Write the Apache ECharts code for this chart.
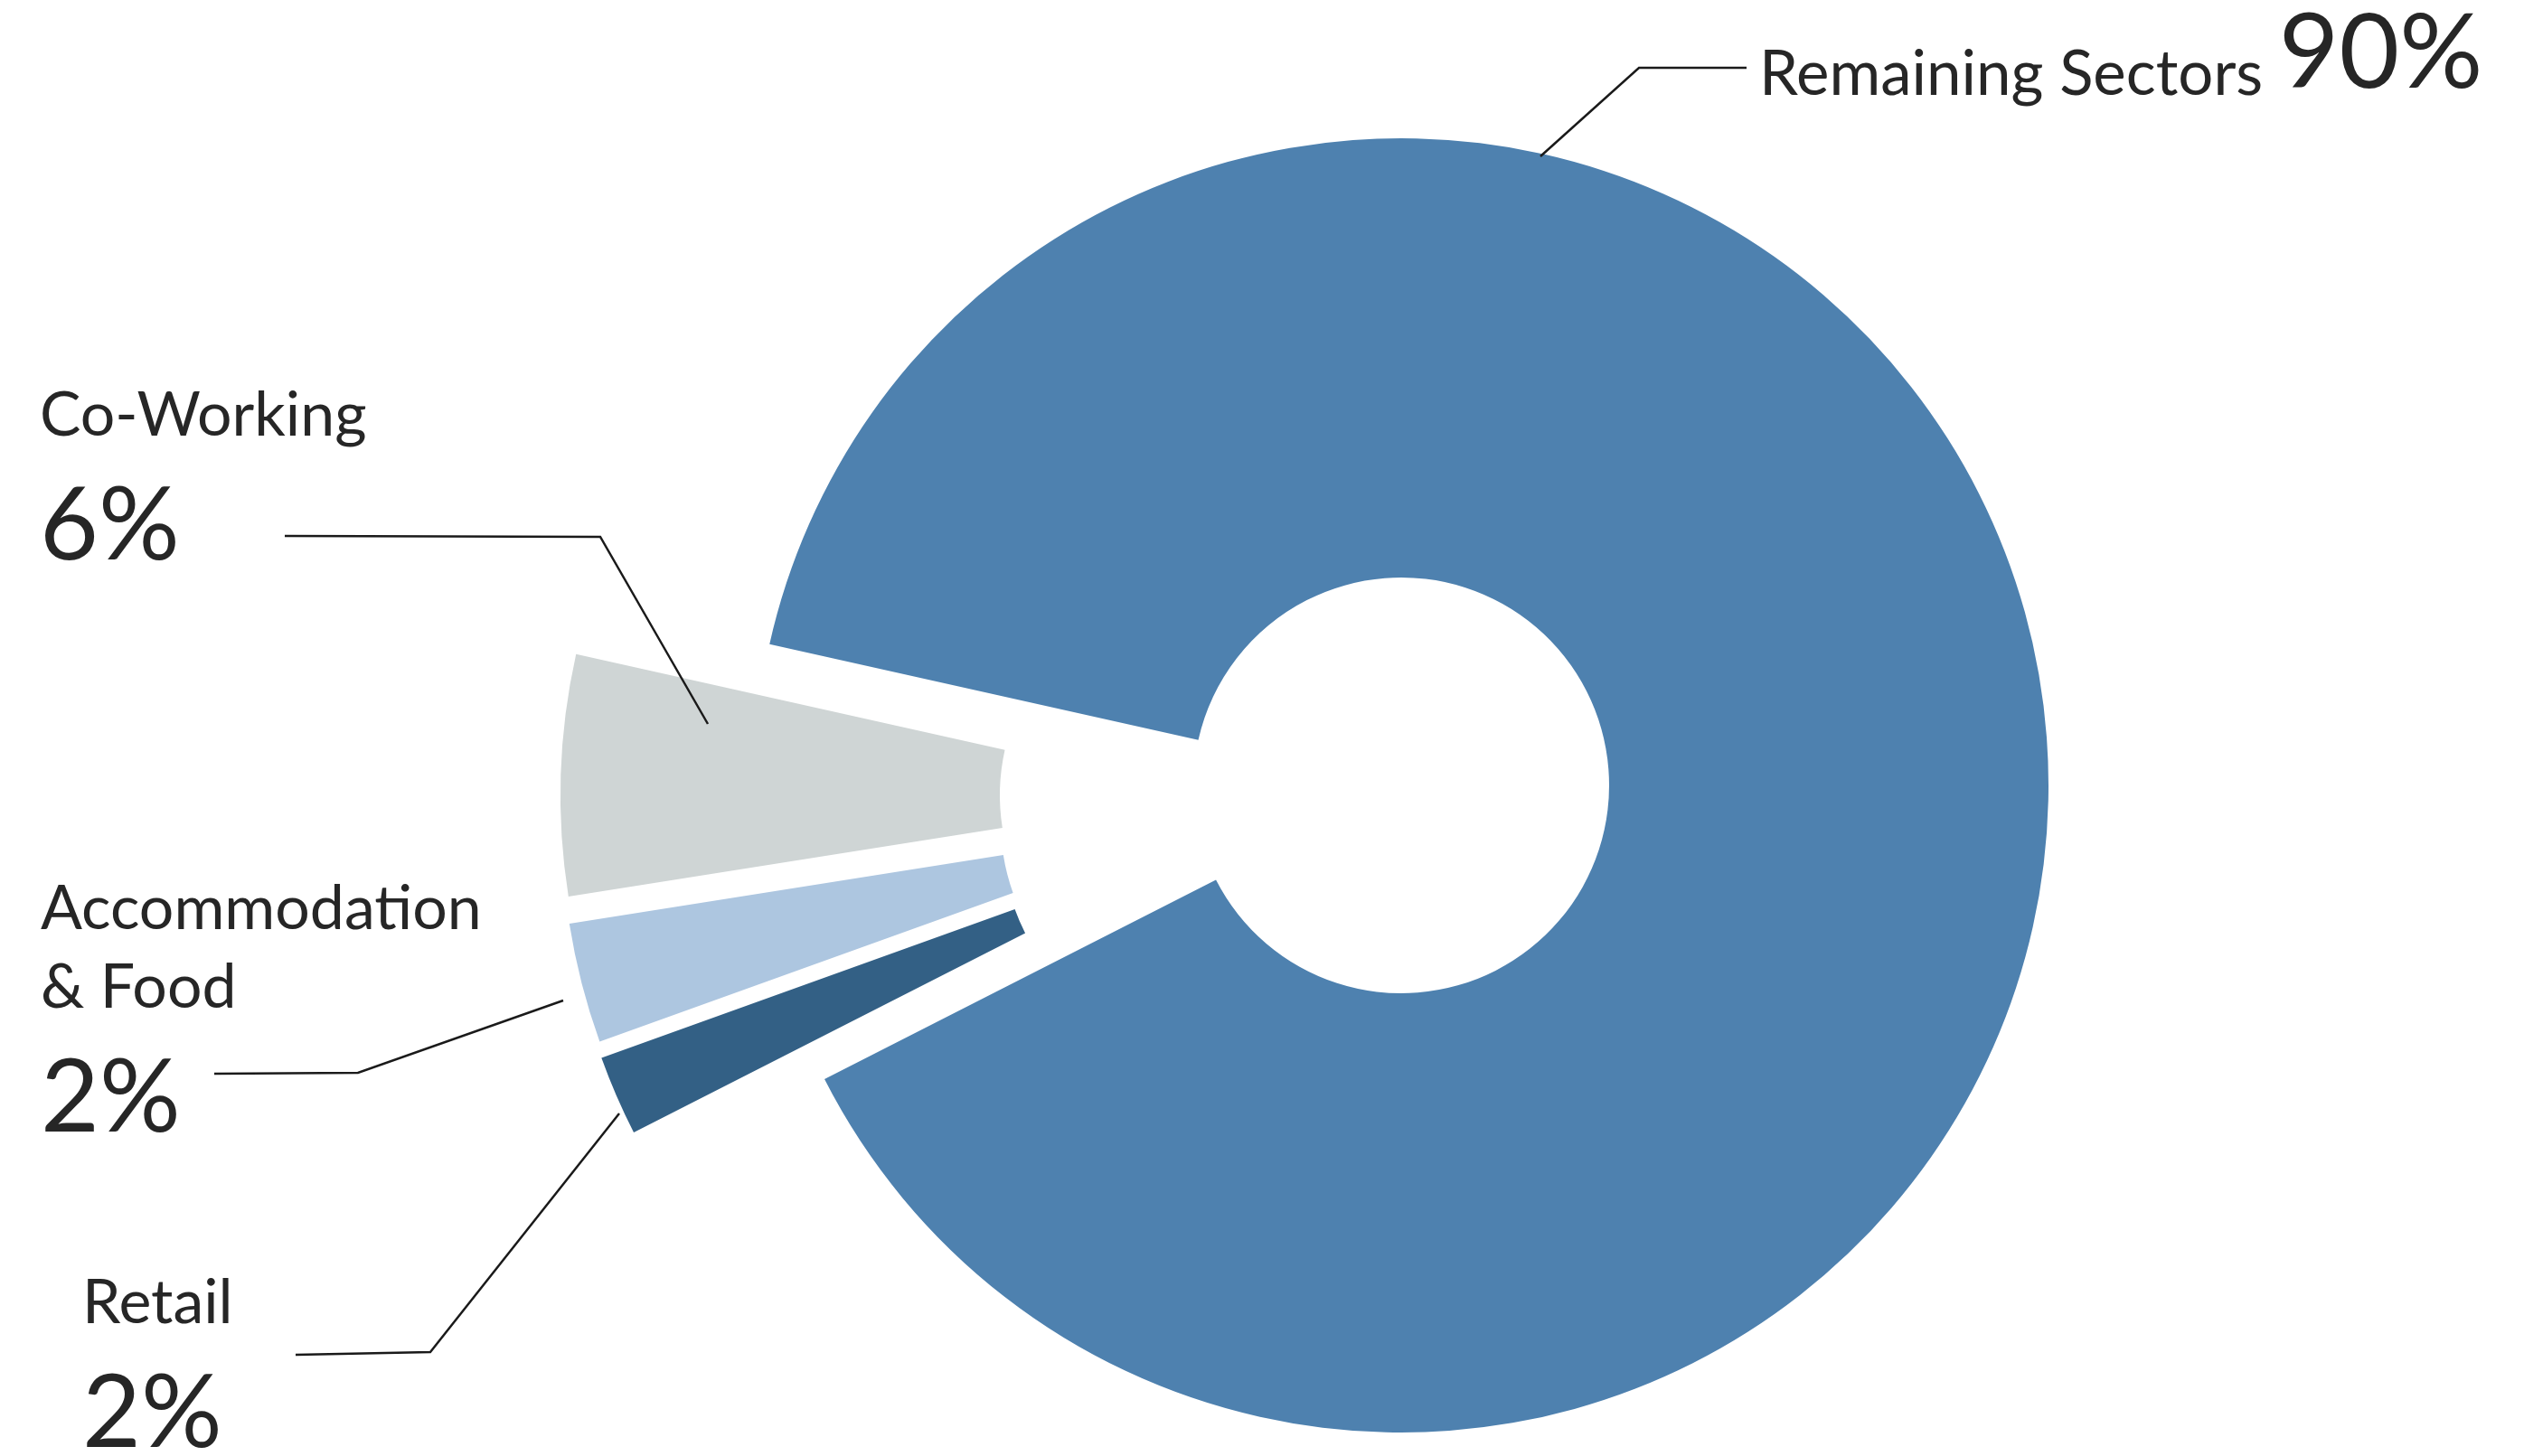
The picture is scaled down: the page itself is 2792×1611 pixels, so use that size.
<!DOCTYPE html>
<html>
<head>
<meta charset="UTF-8">
<script src="https://cdn.jsdelivr.net/npm/echarts@6/dist/echarts.min.js"></script>
<style>
html, body { margin: 0; padding: 0; background: #fff; }
#chart { width: 2792px; height: 1611px; }
</style>
</head>
<body>
<div id="chart"></div>
<script>
// slices, clockwise from the top edge of the big slice
var sectors = ['Remaining Sectors', 'Retail', 'Accommodation & Food', 'Co-Working'];
var shares = [89, 2, 3, 6];
var shareLabels = ['90%', '2%', '2%', '6%'];

var colors = ['#4e81af', '#336085', '#adc6e0', '#cfd5d5'];
var textColor = '#262626';
var font = 'Lato';

// pie geometry
var cx = 1550, cy = 869;
var radius = [230, 716];
var startAngle = 167.4;
// pulled-out slices: shift of each slice's centre
var shift = [[0, 0], [-211, 59], [-213, 41], [-214, 11]];
// label boxes + leader lines
var labelPos = [
    { x: 1946, y: -3, line: [[1704, 173], [1813, 75], [1932, 75]] },
    { x: 91, y: 1399, line: [[685, 1232], [476, 1496], [327, 1499]] },
    { x: 45, y: 963, line: [[623, 1107], [396, 1187], [237, 1188]] },
    { x: 44, y: 417, line: [[783, 801], [664, 594], [315, 593]] }
];

function labelText(prm) {
    var i = prm.dataIndex;
    if (i === 0) {
        return '{rn|' + prm.name + ' }{rp|' + shareLabels[i] + '}';
    }
    var lines = prm.name.replace(' & ', '\n& ').split('\n');
    return lines.map(function (s) { return '{n|' + s + '}'; }).join('\n') +
        '\n{p|' + shareLabels[i] + '}';
}

// one series per slice so each one can sit at its own offset
var series = sectors.map(function (name, k) {
    return {
        type: 'pie',
        silent: true,
        z: 2,
        center: [cx + shift[k][0], cy + shift[k][1]],
        radius: radius,
        startAngle: startAngle,
        clockwise: true,
        emphasis: { disabled: true },
        label: { show: false },
        labelLine: { show: false },
        data: sectors.map(function (n, j) {
            return {
                name: n,
                value: shares[j],
                itemStyle: { color: j === k ? colors[j] : 'rgba(0,0,0,0)' }
            };
        })
    };
});

// labels + leader lines on top of the slices
series.push({
    type: 'pie',
    silent: true,
    z: 5,
    center: [cx, cy],
    radius: radius,
    startAngle: startAngle,
    clockwise: true,
    avoidLabelOverlap: false,
    emphasis: { disabled: true },
    itemStyle: { color: 'rgba(0,0,0,0)' },
    label: {
        show: true,
        position: 'outside',
        formatter: labelText,
        color: textColor,
        fontFamily: font,
        rich: {
            n: { fontSize: 68, lineHeight: 87, fontFamily: font, color: textColor },
            p: { fontSize: 112, lineHeight: 157, fontFamily: font, color: textColor },
            rn: { fontSize: 69, lineHeight: 88, fontFamily: font, color: textColor, verticalAlign: 'bottom' },
            rp: { fontSize: 115, lineHeight: 120, fontFamily: font, color: textColor, verticalAlign: 'bottom' }
        }
    },
    labelLine: {
        show: true,
        lineStyle: { color: '#1a1a1a', width: 2.5 }
    },
    labelLayout: function (prm) {
        var p = labelPos[prm.dataIndex];
        return {
            x: p.x,
            y: p.y,
            align: 'left',
            verticalAlign: 'top',
            labelLinePoints: p.line
        };
    },
    data: sectors.map(function (n, j) {
        return { name: n, value: shares[j] };
    })
});

var myChart = echarts.init(document.getElementById('chart'));
myChart.setOption({
    animation: false,
    backgroundColor: '#fff',
    series: series
});
</script>
</body>
</html>
